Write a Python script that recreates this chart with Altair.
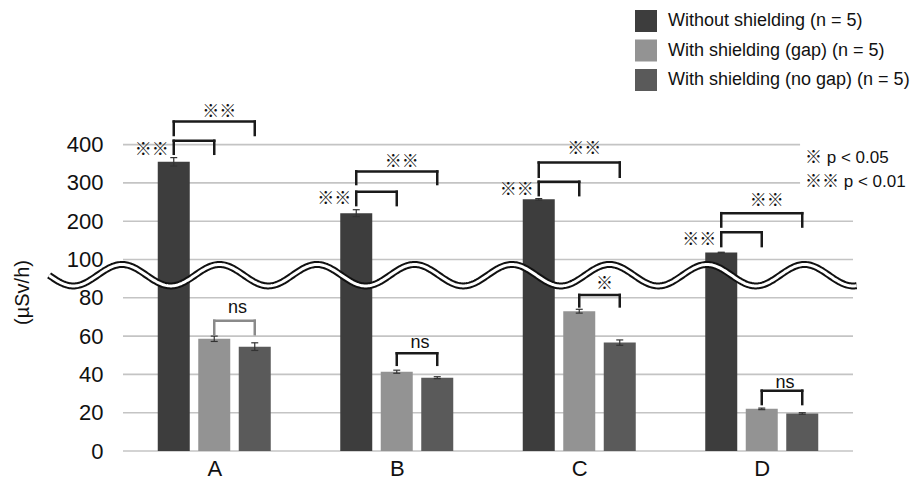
import altair as alt
import numpy as np
import pandas as pd

# ---------------- data ----------------
categories = ["A", "B", "C", "D"]
series = ["Without shielding (n = 5)", "With shielding (gap) (n = 5)", "With shielding (no gap) (n = 5)"]
without = [355, 221, 257, 118]
gap = [58.6, 41.4, 73.0, 22.0]
nogap = [54.5, 38.3, 56.6, 19.6]
err_without = [11, 9, 2, 1]
err_gap = [1.4, 0.8, 1.0, 0.4]
err_nogap = [2.0, 0.5, 1.4, 0.4]
colors = ["#3d3d3d", "#939393", "#5a5a5a"]
y_ticks = [0, 20, 40, 60, 80, 100, 200, 300, 400]

# significance brackets: group, from series, to series, top, leg bottom, label, label y, colour
brackets = [
    ("A", 0, 1, 410, 376, "※※", 386, "#1a1a1a"),
    ("A", 0, 2, 460, 425, "※※", 485, "#1a1a1a"),
    ("A", 1, 2, 68, 61, "ns", 74.5, "#8a8a8a"),
    ("B", 0, 1, 277, 242, "※※", 258, "#1a1a1a"),
    ("B", 0, 2, 330, 297, "※※", 355, "#1a1a1a"),
    ("B", 1, 2, 51, 45, "ns", 56.6, "#1a1a1a"),
    ("C", 0, 1, 303, 268, "※※", 281.5, "#1a1a1a"),
    ("C", 0, 2, 353, 316, "※※", 388, "#1a1a1a"),
    ("C", 1, 2, 81.5, 75.5, "※", 87.2, "#1a1a1a"),
    ("D", 0, 1, 171, 135, "※※", 151, "#1a1a1a"),
    ("D", 0, 2, 221, 186, "※※", 253.5, "#1a1a1a"),
    ("D", 1, 2, 31.5, 24.5, "ns", 35.7, "#1a1a1a"),
]
p_notes = [("※ p < 0.05", 365), ("※※ p < 0.01", 302)]

# ---------------- layout constants ----------------
W, H = 730, 451
STEP = 40.5 / 182.5      # bar step in group units
HALF = 16 / 182.5        # half bar width
CAP = 3.5 / 182.5        # half cap width
FONT = "Liberation Sans, Noto Sans CJK JP"
CJK = "Noto Sans CJK JP"


def xc(gi, si):
    return gi + 0.5 + (si - 1) * STEP


rows = []
for gi, cat in enumerate(categories):
    for si, (vals, errs) in enumerate([(without, err_without), (gap, err_gap), (nogap, err_nogap)]):
        c = xc(gi, si)
        rows.append(dict(cat=cat, series=series[si], value=vals[gi], lo=vals[gi] - errs[gi],
                         hi=vals[gi] + errs[gi], xc=c, x1=c - HALF, x2=c + HALF,
                         c1=c - CAP, c2=c + CAP, base=0))
bar_df = pd.DataFrame(rows)

seg = []
left_lab, top_lab = [], []
for cat, a, b, top, leg, lab, ly, col in brackets:
    gi = categories.index(cat)
    xa, xb = xc(gi, a), xc(gi, b)
    seg.append(dict(x=xa, x2=xb, y=top, y2=top, col=col))
    seg.append(dict(x=xa, x2=xa, y=top, y2=leg, col=col))
    seg.append(dict(x=xb, x2=xb, y=top, y2=leg, col=col))
    if a == 0 and b == 1:
        left_lab.append(dict(x=xa, y=ly, t=lab))
    else:
        top_lab.append(dict(x=(xa + xb) / 2, y=ly, t=lab))
seg_df = pd.DataFrame(seg)
left_df = pd.DataFrame(left_lab)
top_df = pd.DataFrame(top_lab)
top_sym = top_df[top_df.t != "ns"]
top_ns = top_df[top_df.t == "ns"]

grid_df = pd.DataFrame(dict(y=y_ticks, x=[0.0] * len(y_ticks),
                            x2=[4.0 if t <= 200 else 3.71 for t in y_ticks]))
note_df = pd.DataFrame(dict(t=[p[0] for p in p_notes], y=[p[1] for p in p_notes], x=[3.737] * 2))

# axis-break wave (decoration)
period = 97.5 / 182.5
wx = np.linspace(-0.405, 4.02, 700)
wave_df = pd.DataFrame(dict(x=wx, y=91.8 + 5.6 * np.cos(2 * np.pi * (wx + 0.0055) / period)))

xs = alt.Scale(domain=[0, 4], nice=False, zero=False)
ys = alt.Scale(domain=[0, 100, 400], range=[451, 259.5, 144.6], nice=False, zero=False)

label_expr = "[" + ",".join("'%s'" % c for c in categories) + "][floor(datum.value)]"
x_axis = alt.Axis(values=[0.5, 1.5, 2.5, 3.5], labelExpr=label_expr, grid=False, ticks=False,
                  domain=False, title=None, labelFontSize=22, labelPadding=7, labelColor="#111",
                  labelFont=FONT)
y_axis = alt.Axis(values=y_ticks, grid=False, ticks=False, domain=False, labelFontSize=22,
                  labelPadding=20, labelColor="#111", labelFont=FONT, labelOverlap=False,
                  title="(µSv/h)", titleFontSize=20, titleFontWeight="normal", titleFont=FONT,
                  titleColor="#111", titleX=-101, titleY=292, titleAngle=-90, titleAlign="center",
                  titleBaseline="middle")


def X(f):
    return alt.X(f, scale=xs, axis=x_axis)


def Y(f):
    return alt.Y(f, scale=ys, axis=y_axis)


grid = alt.Chart(grid_df).mark_rule(color="#c4c4c4", strokeWidth=1.6).encode(
    x=X("x:Q"), x2="x2:Q", y=Y("y:Q"))

bars = alt.Chart(bar_df).mark_bar().encode(
    x=X("x1:Q"), x2="x2:Q", y=Y("value:Q"), y2="base:Q",
    color=alt.Color("series:N", scale=alt.Scale(domain=series, range=colors),
                    legend=alt.Legend(orient="none", legendX=512, legendY=10, title=None,
                                      symbolType="square", symbolSize=484, symbolStrokeWidth=0,
                                      labelFontSize=18, labelFont=FONT, labelColor="#111",
                                      labelOffset=11, rowPadding=7.5, padding=0,
                                      labelLimit=400)),
)

err_v = alt.Chart(bar_df).mark_rule(color="#333", strokeWidth=1.2).encode(
    x=X("xc:Q"), y=Y("lo:Q"), y2="hi:Q")
err_hi = alt.Chart(bar_df).mark_rule(color="#333", strokeWidth=1.2).encode(
    x=X("c1:Q"), x2="c2:Q", y=Y("hi:Q"))
err_lo = alt.Chart(bar_df).mark_rule(color="#333", strokeWidth=1.2).encode(
    x=X("c1:Q"), x2="c2:Q", y=Y("lo:Q"))

wave_outer = alt.Chart(wave_df).mark_line(color="#111", strokeWidth=7, clip=False).encode(
    x=X("x:Q"), y=Y("y:Q"), order="x:Q")
wave_inner = alt.Chart(wave_df).mark_line(color="white", strokeWidth=3, clip=False).encode(
    x=X("x:Q"), y=Y("y:Q"), order="x:Q")

br = alt.Chart(seg_df).mark_rule(strokeWidth=2.5, strokeCap="square", clip=False).encode(
    x=X("x:Q"), x2="x2:Q", y=Y("y:Q"), y2="y2:Q",
    color=alt.Color("col:N", scale=None, legend=None))

lab_left = alt.Chart(left_df).mark_text(align="right", baseline="middle", dx=-5, fontSize=17,
                                         font=CJK, fontWeight="bold", color="#111", clip=False).encode(
    x=X("x:Q"), y=Y("y:Q"), text="t:N")
lab_sym = alt.Chart(top_sym).mark_text(align="center", baseline="middle", dx=5, fontSize=17,
                                        font=CJK, fontWeight="bold", color="#111", clip=False).encode(
    x=X("x:Q"), y=Y("y:Q"), text="t:N")
lab_ns = alt.Chart(top_ns).mark_text(align="center", baseline="middle", dx=3, fontSize=18,
                                      font=FONT, color="#111", clip=False).encode(
    x=X("x:Q"), y=Y("y:Q"), text="t:N")
notes = alt.Chart(note_df).mark_text(align="left", baseline="middle", fontSize=17,
                                      font=FONT, color="#111", clip=False).encode(
    x=X("x:Q"), y=Y("y:Q"), text="t:N")

chart = alt.layer(grid, bars, err_v, err_hi, err_lo, wave_outer, wave_inner, br,
                  lab_left, lab_sym, lab_ns, notes).properties(
    width=W, height=H,
    autosize=alt.AutoSizeParams(type="none"),
    padding={"left": 123, "top": 0, "right": 59, "bottom": 32},
    background="white",
).configure_view(stroke=None)

chart.save("out.html", embed_options={"renderer": "svg", "actions": False})
